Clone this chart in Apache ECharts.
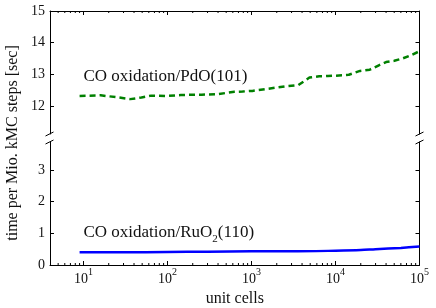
<!DOCTYPE html>
<html>
<head>
<meta charset="utf-8">
<script src="https://cdn.jsdelivr.net/npm/echarts@6/dist/echarts.min.js"></script>
<style>
html,body{margin:0;padding:0;background:#fff;}
#chart{width:436px;height:308px;}
</style>
</head>
<body>
<div id="chart"></div>
<script>
// ---- data ----
const pdoCells = [9,16,25,36,49,64,100,144,196,256,400,625,784,1024,1600,2500,3600,4900,6400,8100,10000,12100,14400,19600,25600,32400,40000,50176,62500,78400,99856];
const pdoTimes = [12.32,12.34,12.28,12.22,12.27,12.33,12.32,12.35,12.36,12.36,12.38,12.45,12.46,12.48,12.55,12.62,12.66,12.90,12.94,12.95,12.96,12.97,12.99,13.11,13.15,13.28,13.39,13.43,13.50,13.60,13.73];
const ruo2Cells = [9,30,100,300,1000,3000,10000,20000,30000,60000,99856];
const ruo2Times = [0.40,0.40,0.41,0.42,0.43,0.43,0.45,0.47,0.50,0.54,0.58];
const topYTicks = [12,13,14,15];
const bottomYTicks = [0,1,2,3];
const xMinorTicks = [5,6,7,8,9,20,30,40,50,60,70,80,90,200,300,400,500,600,700,800,900,2000,3000,4000,5000,6000,7000,8000,9000,20000,30000,40000,50000,60000,70000,80000,90000];
const pdoLabel = {x: 10, y: 12.8, text: 'CO oxidation/PdO(101)'};
const ruo2Label = {x: 10, y: 0.8};

const FONT = '"Liberation Serif", "DejaVu Serif", serif';
const TXT = '#111';

const chart = echarts.init(document.getElementById('chart'), null, {renderer: 'canvas'});

const lineStyleAxis = {show: true, lineStyle: {color: '#000', width: 1}};
const G0 = {left: 50, top: 11, width: 369.5, height: 123};
const G1 = {left: 50, top: 142, width: 369.5, height: 123};

function yAxisDef(gridIndex, pos, min, max, ticks, showLabel) {
  return {
    type: 'value', gridIndex, position: pos, min, max,
    axisLine: lineStyleAxis,
    axisTick: {show: true, inside: true, length: 4, lineStyle: {color: '#000'}, customValues: ticks},
    axisLabel: {show: showLabel, customValues: ticks, margin: 5, fontFamily: FONT, fontSize: 14, color: TXT},
    splitLine: {show: false}
  };
}

function minorTickSeries(xIdx, yIdx, edge, dir) {
  return {
    type: 'custom', xAxisIndex: xIdx, yAxisIndex: yIdx, silent: true, clip: false,
    data: xMinorTicks.map(v => [v, edge]),
    renderItem: function (params, api) {
      const p = api.coord([api.value(0), api.value(1)]);
      return {type: 'line', shape: {x1: p[0], y1: p[1], x2: p[0], y2: p[1] + dir * 2},
              style: {stroke: '#000', lineWidth: 1}};
    },
    z: 5
  };
}

const option = {
  backgroundColor: '#fff',
  animation: false,
  grid: [G0, G1],
  xAxis: [
    {type: 'log', gridIndex: 0, position: 'top', min: 4, max: 100000, logBase: 10,
     axisLine: lineStyleAxis,
     axisTick: {show: true, inside: true, length: 4, lineStyle: {color: '#000'}},
     axisLabel: {show: false}, splitLine: {show: false}},
    {type: 'log', gridIndex: 1, position: 'bottom', min: 4, max: 100000, logBase: 10,
     axisLine: lineStyleAxis,
     axisTick: {show: true, inside: true, length: 4, lineStyle: {color: '#000'}},
     axisLabel: {
       show: true, showMinLabel: false, margin: 2, fontFamily: FONT, color: TXT,
       formatter: function (v) {
         const e = Math.round(Math.log10(v));
         if (Math.abs(Math.pow(10, e) - v) > 1e-6 * v) return '';
         return '{b|10}{s|' + e + '}';
       },
       rich: {
         b: {fontFamily: FONT, fontSize: 14, lineHeight: 14, padding: [5, 0, 0, 0], verticalAlign: 'top', color: TXT},
         s: {fontFamily: FONT, fontSize: 10, lineHeight: 10, verticalAlign: 'top', color: TXT}
       }
     },
     splitLine: {show: false},
     name: 'unit cells', nameLocation: 'middle', nameGap: 26,
     nameTextStyle: {fontFamily: FONT, fontSize: 16, color: TXT}}
  ],
  yAxis: [
    yAxisDef(0, 'left', 11.12, 15, topYTicks, true),
    yAxisDef(0, 'right', 11.12, 15, topYTicks, false),
    yAxisDef(1, 'left', 0, 3.88, bottomYTicks, true),
    yAxisDef(1, 'right', 0, 3.88, bottomYTicks, false)
  ],
  series: [
    {type: 'line', xAxisIndex: 0, yAxisIndex: 0, showSymbol: false,
     data: pdoCells.map((c, i) => [c, pdoTimes[i]]),
     lineStyle: {color: '#008000', width: 2.5, type: [6, 4]}, z: 3},
    {type: 'line', xAxisIndex: 1, yAxisIndex: 2, showSymbol: false, smooth: 0.3,
     data: ruo2Cells.map((c, i) => [c, ruo2Times[i]]),
     lineStyle: {color: '#0000ff', width: 2.5}, z: 3},
    {type: 'scatter', xAxisIndex: 0, yAxisIndex: 0, symbolSize: 0, silent: true,
     itemStyle: {opacity: 1},
     data: [[pdoLabel.x, pdoLabel.y]],
     label: {show: true, position: [0, 0], align: 'left', verticalAlign: 'bottom',
             formatter: pdoLabel.text, fontFamily: FONT, fontSize: 17, color: TXT, offset: [0, 4]}},
    {type: 'scatter', xAxisIndex: 1, yAxisIndex: 2, symbolSize: 0, silent: true,
     itemStyle: {opacity: 1},
     data: [[ruo2Label.x, ruo2Label.y]],
     label: {show: true, position: [0, 0], align: 'left', verticalAlign: 'bottom', offset: [0, 5],
             formatter: '{n|CO oxidation/RuO}{sub|2}{n|(110)}',
             rich: {
               n: {fontFamily: FONT, fontSize: 17, lineHeight: 21, verticalAlign: 'top', color: TXT},
               sub: {fontFamily: FONT, fontSize: 11, lineHeight: 11, padding: [9.5, 0, 0, 0], verticalAlign: 'top', color: TXT}
             }}},
    minorTickSeries(0, 0, 15, 1),
    minorTickSeries(1, 2, 0, -1)
  ],
  graphic: [
    {type: 'text', x: 13, y: 143, rotation: Math.PI / 2,
     style: {text: 'time per Mio. kMC steps [sec]', font: '16px ' + FONT, fill: TXT,
             textAlign: 'center', textVerticalAlign: 'middle'}},
    {type: 'line', shape: {x1: 45.5, y1: 136, x2: 53.5, y2: 132}, style: {stroke: '#000', lineWidth: 1}},
    {type: 'line', shape: {x1: 45.5, y1: 144, x2: 53.5, y2: 140}, style: {stroke: '#000', lineWidth: 1}},
    {type: 'line', shape: {x1: 415.5, y1: 136, x2: 423.5, y2: 132}, style: {stroke: '#000', lineWidth: 1}},
    {type: 'line', shape: {x1: 415.5, y1: 144, x2: 423.5, y2: 140}, style: {stroke: '#000', lineWidth: 1}}
  ]
};
chart.setOption(option);
</script>
</body>
</html>
